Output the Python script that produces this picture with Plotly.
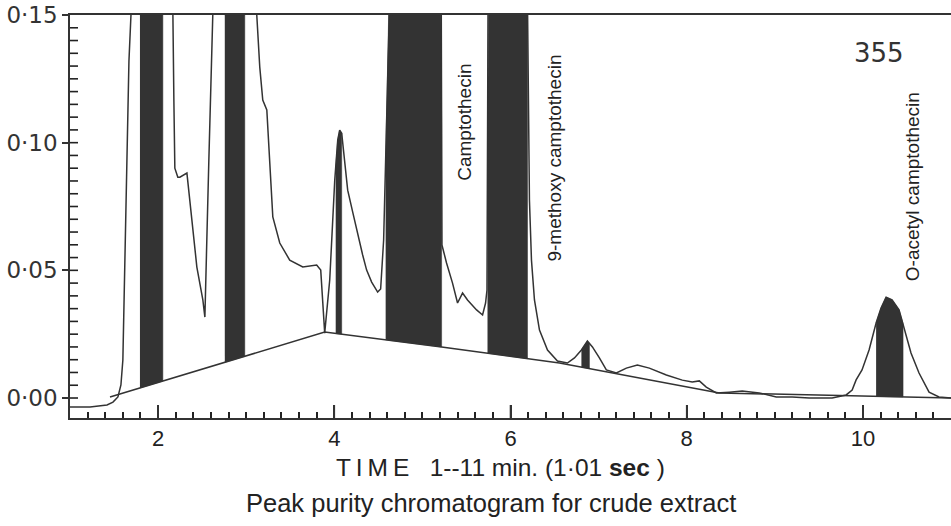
import numpy as np
import plotly.graph_objects as go

# ---- data ----
# retention time (min) and absorbance of the chromatogram trace; 0.2 marks off-scale parts
time_min = [1.0, 1.227, 1.42, 1.488, 1.544, 1.578, 1.60, 1.624, 1.646, 1.669, 1.692, 1.74,
            2.13, 2.168, 2.179, 2.19, 2.224, 2.247, 2.327, 2.36, 2.44, 2.508, 2.531, 2.576, 2.621, 2.66,
            3.08, 3.12, 3.154, 3.188, 3.234, 3.268, 3.302, 3.381, 3.494, 3.642, 3.744, 3.80, 3.846, 3.868, 3.891,
            3.948, 4.005, 4.039, 4.061, 4.084, 4.118, 4.152, 4.209, 4.265, 4.322, 4.367, 4.424, 4.492, 4.526, 4.56, 4.594, 4.617, 4.66,
            5.21, 5.222, 5.274, 5.342, 5.399, 5.456, 5.512, 5.615, 5.683, 5.717, 5.733, 5.75,
            6.18, 6.193, 6.205, 6.215, 6.238, 6.272, 6.329, 6.42, 6.533, 6.646, 6.726, 6.805, 6.873, 6.93,
            7.009, 7.088, 7.202, 7.315, 7.44, 7.576, 7.769, 7.95, 8.063, 8.143, 8.222, 8.336, 8.483, 8.63, 8.823,
            9.016, 9.197, 9.39, 9.651, 9.81, 9.878, 9.923, 9.99, 10.07, 10.15, 10.206, 10.263, 10.331, 10.41,
            10.467, 10.546, 10.637, 10.751, 10.864, 11.0]
absorbance = [-0.0035, -0.0035, -0.0027, -0.0016, 0.0004, 0.0051, 0.0149, 0.058, 0.101, 0.132, 0.15, 0.2,
              0.2, 0.15, 0.1167, 0.090, 0.0865, 0.0865, 0.0881, 0.0775, 0.0513, 0.0384, 0.0317, 0.0932, 0.15, 0.2,
              0.2, 0.15, 0.1296, 0.1167, 0.1128, 0.0904, 0.0709, 0.0607, 0.054, 0.0513, 0.0517, 0.0521, 0.0501, 0.0384, 0.0254,
              0.0462, 0.0853, 0.101, 0.1049, 0.1037, 0.0912, 0.0814, 0.0728, 0.0638, 0.056, 0.0501, 0.0454, 0.0415, 0.0427, 0.0619, 0.1088, 0.15, 0.2,
              0.2, 0.0599, 0.0529, 0.045, 0.0372, 0.0411, 0.0384, 0.0345, 0.0325, 0.0372, 0.0423, 0.2,
              0.2, 0.15, 0.1167, 0.0775, 0.054, 0.0384, 0.0266, 0.0188, 0.0145, 0.0137, 0.0157, 0.0188, 0.0223, 0.02,
              0.0157, 0.011, 0.0098, 0.0117, 0.0129, 0.0117, 0.009, 0.007, 0.0063, 0.0067, 0.0043, 0.002, 0.0023, 0.0027, 0.002,
              0.0004, 0.0004, 0.0, 0.0, 0.0012, 0.0031, 0.0071, 0.011, 0.0188, 0.0294, 0.0352, 0.0395, 0.0384, 0.0345,
              0.0278, 0.0176, 0.0098, 0.0023, 0.0004, 0.0]

# drawn integration baseline
baseline_time = [1.454, 3.891, 5.218, 6.556, 8.37, 11.0]
baseline_abs = [0.0004, 0.0258, 0.020, 0.0137, 0.002, 0.0]

# shaded (impure) regions of the peaks
band_start = [1.794, 2.757, 4.016, 4.583, 5.739, 6.805, 10.15]
band_end = [2.054, 2.984, 4.084, 5.218, 6.193, 6.896, 10.456]

peak_labels = ["Camptothecin", "9-methoxy camptothecin", "O-acetyl camptothecin"]
peak_label_time = [5.478, 6.50, 10.558]
peak_label_abs = [0.108, 0.094, 0.0826]

y_ticks = [0.0, 0.05, 0.10, 0.15]
y_ticktext = ["0·00", "0·05", "0·10", "0·15"]
x_ticks = [2, 4, 6, 8, 10]
x_ticktext = ["2", "4", "6", "8", "10"]
x_minor_step = 0.2
y_minor_step = 0.005

assert len(time_min) == len(absorbance)

X_RANGE = [1, 11]
Y_RANGE = [-0.00783, 0.15]
Y_TOP = Y_RANGE[1]
INK = "#333333"
BAND = "#333333"
W, H = 951, 526
M = dict(l=70, r=0, t=15, b=108)
PLOT_W = W - M["l"] - M["r"]
PLOT_H = H - M["t"] - M["b"]

fig = go.Figure()

t_arr = np.array(time_min)
a_arr = np.array(absorbance)
for s, e in zip(band_start, band_end):
    inner = [t for t in time_min if s < t < e]
    xs = np.array([s] + inner + [e])
    top = np.minimum(np.interp(xs, t_arr, a_arr), Y_TOP)
    bot = np.interp(xs, baseline_time, baseline_abs)
    px = list(xs) + list(xs[::-1])
    py = list(top) + list(bot[::-1])
    fig.add_trace(go.Scatter(x=px, y=py, mode="lines", fill="toself",
                             fillcolor=BAND, line=dict(color=BAND, width=0.5),
                             hoverinfo="skip", showlegend=False))

# baseline is plotted on the overlay x axis (same range) so that axis is drawn
fig.add_trace(go.Scatter(x=baseline_time, y=baseline_abs, mode="lines", xaxis="x2", yaxis="y",
                         line=dict(color=INK, width=1.5), showlegend=False))
fig.add_trace(go.Scatter(x=time_min, y=absorbance, mode="lines",
                         line=dict(color=INK, width=1.5), showlegend=False))

for txt, tx, ty in zip(peak_labels, peak_label_time, peak_label_abs):
    fig.add_annotation(x=tx, y=ty, text=txt, textangle=-90, showarrow=False,
                       xanchor="center", yanchor="middle",
                       font=dict(family="Liberation Sans, Arial", size=19, color="#222"))

fig.add_annotation(x=10.184, y=0.135, text="355", showarrow=False,
                   xanchor="center", yanchor="middle",
                   font=dict(family="DejaVu Sans", size=26, color="#333"))

fig.add_annotation(x=5.892, y=-0.124, xref="x", yref="paper",
                   text="T\u2009I\u2009M\u2009E   1--11 min. (1·01 <b>sec</b> )", showarrow=False,
                   xanchor="center", yanchor="middle",
                   font=dict(family="Liberation Sans Narrow, Liberation Sans", size=24.5, color="#222"))
fig.add_annotation(x=5.779, y=-0.211, xref="x", yref="paper",
                   text="Peak purity chromatogram for crude extract", showarrow=False,
                   xanchor="center", yanchor="middle",
                   font=dict(family="Liberation Sans Narrow, Liberation Sans", size=25.5, color="#222"))

# x axis: every 0.2-min position gets a short inside tick; labels only at the major values
n_x = int(round((X_RANGE[1] - X_RANGE[0]) / x_minor_step))
x_all_vals = [round(X_RANGE[0] + i * x_minor_step, 3) for i in range(1, n_x)]
x_all_text = []
for v in x_all_vals:
    lab = ""
    for m, t in zip(x_ticks, x_ticktext):
        if abs(v - m) < 1e-6:
            lab = t
    x_all_text.append(lab)

# long major x ticks and small inside y ticks as axis-decoration shapes
shapes = []
for m in x_ticks:
    shapes.append(dict(type="line", xref="x", yref="paper", x0=m, x1=m, y0=0, y1=13 / PLOT_H,
                       layer="above", line=dict(color=INK, width=1.6)))
n_y = int(round(Y_TOP / y_minor_step))
for i in range(0, n_y):
    v = i * y_minor_step
    shapes.append(dict(type="line", xref="paper", yref="y", x0=0, x1=8 / PLOT_W, y0=v, y1=v,
                       layer="above", line=dict(color="#222222", width=1.6)))

fig.update_layout(
    width=W, height=H, margin=dict(**M, autoexpand=False),
    paper_bgcolor="white", plot_bgcolor="white", showlegend=False, shapes=shapes,
    xaxis=dict(range=X_RANGE, showline=True, linecolor=INK, linewidth=1.5, mirror=True,
               tickmode="array", tickvals=x_all_vals, ticktext=x_all_text,
               ticks="inside", ticklen=6, tickcolor="#222222", tickwidth=1.8,
               showgrid=False, zeroline=False, automargin=False,
               tickfont=dict(family="Liberation Sans Narrow, Liberation Sans", size=22, color="#222")),
    # overlay axis that carries the long major ticks
    xaxis2=dict(range=X_RANGE, overlaying="x", anchor="y", side="bottom",
                tickmode="array", tickvals=x_ticks, ticks="inside", ticklen=13,
                tickcolor=INK, tickwidth=1.6, showticklabels=False, showline=False,
                showgrid=False, zeroline=False, automargin=False),
    yaxis=dict(range=Y_RANGE, showline=True, linecolor=INK, linewidth=1.5,
               tickmode="array", tickvals=y_ticks, ticktext=y_ticktext,
               ticks="outside", ticklen=6, tickcolor=INK, tickwidth=1.5,
               showgrid=False, zeroline=False, automargin=False,
               tickfont=dict(family="DejaVu Sans", size=23, color="#333")),
)

fig.write_html("out.html", config={"displayModeBar": False},
               post_script="document.body.style.margin='0px';document.body.style.overflow='hidden';")
